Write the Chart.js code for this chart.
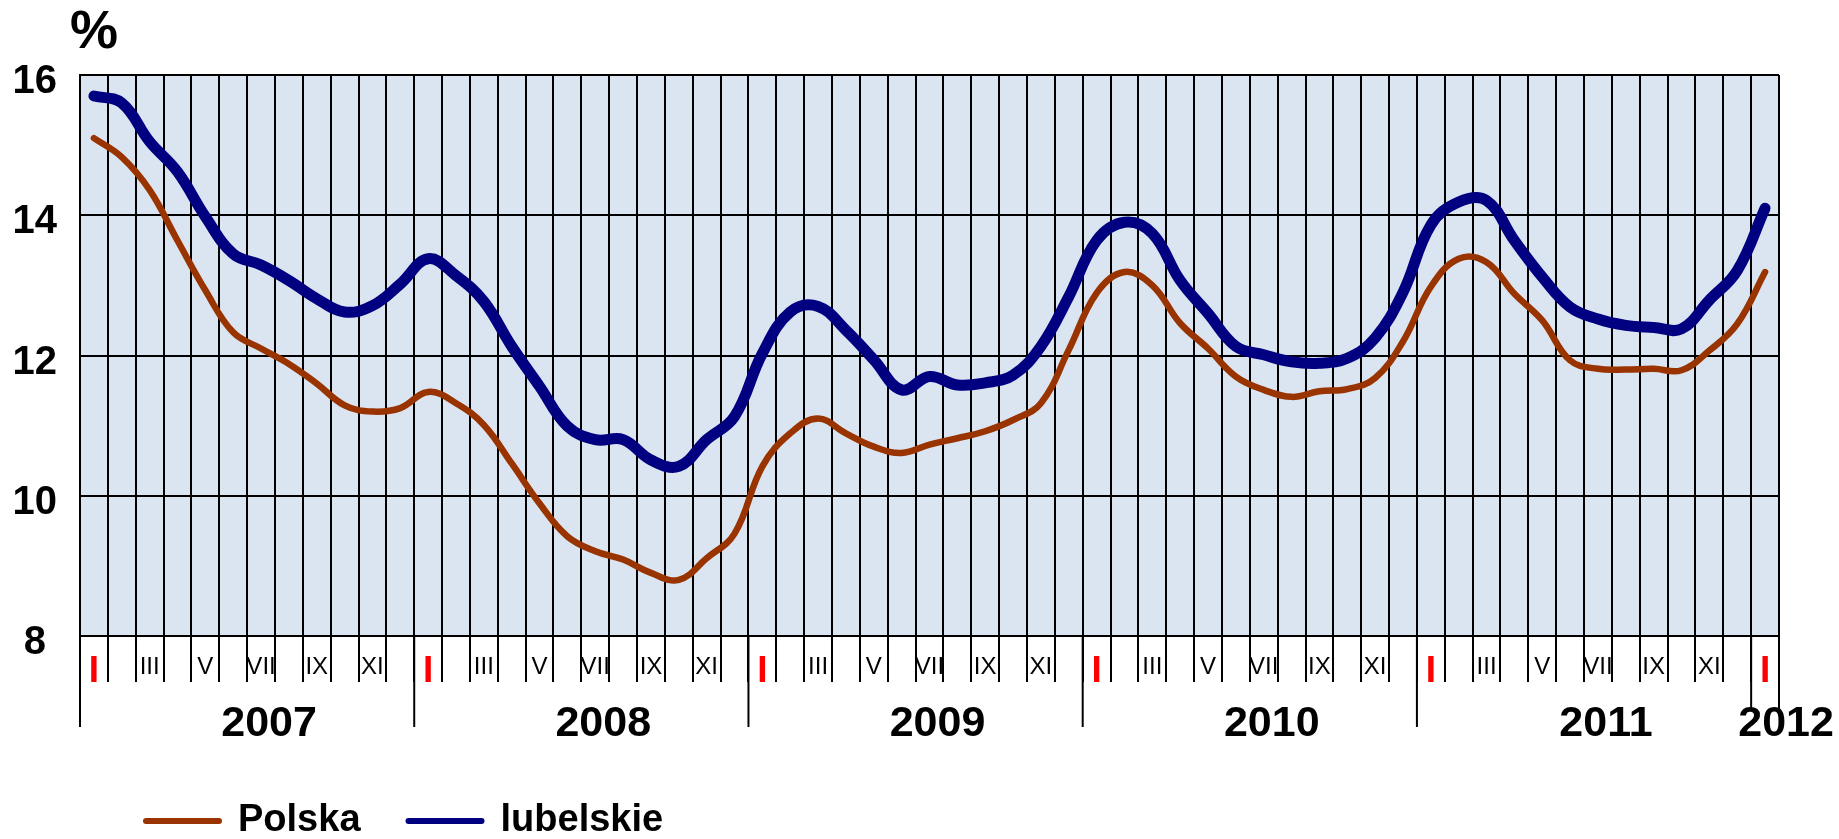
<!DOCTYPE html>
<html lang="pl">
    <head>
        <meta charset="UTF-8">
        <title>Stopa bezrobocia: Polska i lubelskie</title>
        <script src="https://cdn.jsdelivr.net/npm/chart.js"></script>
        <style>
            body {
                margin: 0;
                background-color: #ffffff;
                overflow: hidden;
            }
            canvas {
                display: block;
            }
        </style>
    </head>
    <body>
        <canvas id="chart" width="1839" height="839"></canvas>
        <script>
            const FONT = '"Liberation Sans", Arial, sans-serif';

            // podpisy miesięcy w roku (tylko nieparzyste) i lata
            const monthNames = ['I', '', 'III', '', 'V', '', 'VII', '', 'IX', '', 'XI', ''];
            const years = ['2007', '2008', '2009', '2010', '2011', '2012'];

            // I 2007 - I 2012, %
            const polska = [
                15.1, 14.83, 14.36, 13.64, 12.93, 12.33, 12.1, 11.88, 11.6, 11.29, 11.2, 11.25,
                11.48, 11.32, 11.01, 10.46, 9.89, 9.42, 9.21, 9.09, 8.9, 8.8, 9.11, 9.46,
                10.42, 10.89, 11.1, 10.89, 10.7, 10.61, 10.73, 10.82, 10.92, 11.08, 11.32, 12.08,
                12.89, 13.19, 13.0, 12.46, 12.1, 11.7, 11.51, 11.41, 11.49, 11.52, 11.68, 12.2,
                12.98, 13.38, 13.33, 12.88, 12.5, 11.93, 11.81, 11.8, 11.81, 11.79, 12.07, 12.45,
                13.19
            ];
            const lubelskie = [
                15.7, 15.6, 15.05, 14.62, 13.98, 13.45, 13.29, 13.07, 12.81, 12.62, 12.71, 13.02,
                13.38, 13.14, 12.77, 12.13, 11.56, 10.99, 10.8, 10.8, 10.51, 10.42, 10.8, 11.13,
                12.03, 12.62, 12.7, 12.36, 11.94, 11.51, 11.7, 11.58, 11.61, 11.72, 12.13, 12.84,
                13.64, 13.9, 13.74, 13.07, 12.6, 12.13, 12.01, 11.91, 11.89, 11.96, 12.25, 12.9,
                13.86, 14.19, 14.21, 13.64, 13.12, 12.69, 12.52, 12.43, 12.4, 12.38, 12.79, 13.21,
                14.1
            ];

            const labels = [];
            years.forEach((y, k) => {
                if (k < years.length - 1) {
                    labels.push(...monthNames);
                } else {
                    labels.push(monthNames[0]);
                }
            });

            const plotBackground = {
                id: 'plotBackground',
                beforeDraw(chart) {
                    const {ctx, chartArea: a} = chart;
                    ctx.save();
                    ctx.fillStyle = '#dbe5f1';
                    ctx.fillRect(a.left, a.top, a.right - a.left, a.bottom - a.top);
                    ctx.restore();
                }
            };

            // długie kreski między latami, podpisy lat i znak %
            const yearAxis = {
                id: 'yearAxis',
                afterDraw(chart) {
                    const {ctx, chartArea: a} = chart;
                    const x = chart.scales.x;
                    const half = (x.getPixelForValue(1) - x.getPixelForValue(0)) / 2;
                    ctx.save();
                    ctx.strokeStyle = '#000000';
                    ctx.lineWidth = 2;
                    ctx.beginPath();
                    years.forEach((y, k) => {
                        const bx = x.getPixelForValue(k * 12) - half;
                        const len = k < years.length - 1 ? 91 : 74;
                        ctx.moveTo(bx, a.bottom);
                        ctx.lineTo(bx, a.bottom + len);
                    });
                    const ex = x.getPixelForValue(labels.length - 1) + half;
                    ctx.moveTo(ex, a.bottom);
                    ctx.lineTo(ex, a.bottom + 74);
                    ctx.stroke();

                    ctx.fillStyle = '#000000';
                    ctx.textAlign = 'center';
                    ctx.textBaseline = 'middle';
                    ctx.font = 'bold 43px ' + FONT;
                    years.forEach((y, k) => {
                        const tx = k < years.length - 1
                            ? x.getPixelForValue(k * 12 + 6) + 8
                            : x.getPixelForValue(k * 12) + 21;
                        ctx.fillText(y, tx, a.bottom + 88);
                    });

                    ctx.font = 'bold 54px ' + FONT;
                    ctx.fillText('%', a.left + 14, a.top - 42);
                    ctx.restore();
                }
            };

            const legendShift = {
                id: 'legendShift',
                afterLayout(chart) {
                    chart.legend.left += 98;
                }
            };

            new Chart(document.getElementById('chart'), {
                type: 'line',
                data: {
                    labels: labels,
                    datasets: [
                        {
                            label: 'Polska',
                            data: polska,
                            borderColor: '#993300',
                            borderWidth: 6.5
                        },
                        {
                            label: 'lubelskie',
                            data: lubelskie,
                            borderColor: '#000080',
                            borderWidth: 11
                        }
                    ]
                },
                options: {
                    responsive: false,
                    animation: false,
                    devicePixelRatio: 1,
                    elements: {
                        point: { radius: 0 },
                        line: {
                            tension: 0.4,
                            borderCapStyle: 'round',
                            borderJoinStyle: 'round',
                            fill: false
                        }
                    },
                    layout: {
                        padding: { top: 75, right: 60, bottom: -11, left: 0 }
                    },
                    plugins: {
                        tooltip: { enabled: false },
                        legend: {
                            position: 'bottom',
                            align: 'start',
                            labels: {
                                usePointStyle: true,
                                pointStyleWidth: 73,
                                boxHeight: 6,
                                padding: 48,
                                color: '#000000',
                                font: { family: FONT, size: 38, weight: 'bold' },
                                generateLabels: chart => chart.data.datasets.map((ds, i) => ({
                                    text: ds.label,
                                    datasetIndex: i,
                                    fillStyle: ds.borderColor,
                                    strokeStyle: ds.borderColor,
                                    fontColor: '#000000',
                                    lineWidth: 6,
                                    lineCap: 'round',
                                    pointStyle: 'line',
                                    hidden: false
                                }))
                            }
                        }
                    },
                    scales: {
                        x: {
                            offset: true,
                            afterFit: scale => { scale.height = 118; },
                            grid: {
                                offset: true,
                                color: '#000000',
                                lineWidth: 2,
                                tickLength: 46,
                                tickColor: '#000000',
                                tickWidth: 2
                            },
                            border: { color: '#000000', width: 2 },
                            ticks: {
                                autoSkip: false,
                                maxRotation: 0,
                                padding: -29,
                                color: ctx => ctx.tick && ctx.tick.label === 'I' ? '#ff0000' : '#000000',
                                font: ctx => ctx.tick && ctx.tick.label === 'I'
                                    ? { family: FONT, size: 37, weight: 'bold', lineHeight: 1 }
                                    : { family: FONT, size: 24 }
                            }
                        },
                        y: {
                            min: 8,
                            max: 16,
                            afterFit: scale => { scale.width = 80; },
                            grid: {
                                color: '#000000',
                                lineWidth: 2,
                                drawTicks: false
                            },
                            border: { color: '#000000', width: 2 },
                            ticks: {
                                stepSize: 2,
                                padding: 23,
                                crossAlign: 'center',
                                labelOffset: 7,
                                color: '#000000',
                                font: { family: FONT, size: 40, weight: 'bold' }
                            }
                        }
                    }
                },
                plugins: [plotBackground, yearAxis, legendShift]
            });
        </script>
    </body>
</html>
